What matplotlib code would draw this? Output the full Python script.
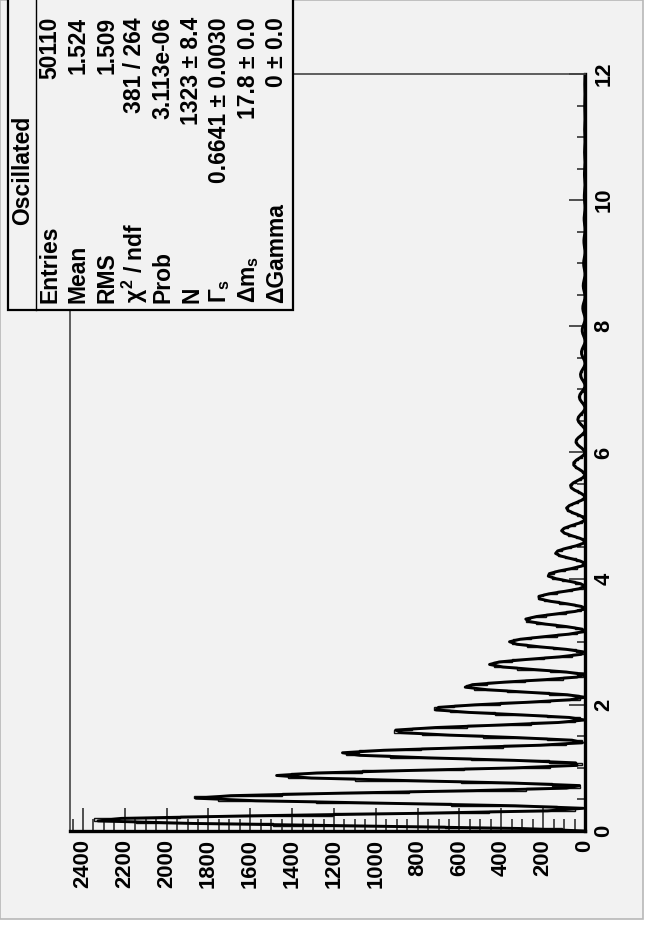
import matplotlib
matplotlib.use("Agg")
import matplotlib.pyplot as plt
import numpy as np
from matplotlib.patches import Rectangle
from matplotlib.lines import Line2D
from matplotlib.ticker import MultipleLocator

plt.rcParams['font.family'] = ['Liberation Sans', 'DejaVu Sans']
plt.rcParams['font.weight'] = 'bold'
plt.rcParams['mathtext.fontset'] = 'custom'
plt.rcParams['mathtext.rm'] = 'Liberation Sans:bold'
plt.rcParams['mathtext.it'] = 'Liberation Sans:bold'
plt.rcParams['mathtext.bf'] = 'Liberation Sans:bold'

# decay time histogram, 300 bins on [0, 12]
t_lo, t_hi, n_bins = 0.0, 12.0, 300
counts = [
    108, 670, 1491, 2145, 2345, 1935, 1205, 460, 50, 136,
    640, 1288, 1753, 1870, 1448, 842, 282, 22, 158, 595,
    1100, 1421, 1406, 1067, 579, 166, 14, 173, 544, 930,
    1143, 1082, 782, 392, 93, 16, 180, 487, 778, 912,
    825, 565, 259, 48, 23, 180, 430, 646, 722, 624,
    404, 167, 23, 30, 174, 375, 531, 567, 467, 285,
    105, 10, 37, 165, 323, 433, 442, 348, 198, 64,
    5, 43, 152, 275, 350, 342, 256, 136, 37, 4,
    46, 138, 232, 281, 262, 187, 91, 20, 5, 47,
    123, 194, 224, 200, 135, 60, 10, 7, 47, 109,
    160, 177, 150, 96, 38, 5, 9, 45, 94, 131,
    138, 112, 67, 23, 2, 10, 42, 81, 107, 108,
    83, 47, 14, 1, 12, 39, 69, 86, 83, 61,
    32, 8, 1, 12, 35, 58, 69, 64, 45, 21,
    4, 1, 12, 31, 48, 55, 48, 32, 14, 2,
    2, 12, 27, 40, 43, 36, 23, 9, 1, 2,
    12, 24, 32, 34, 27, 16, 5, 0, 3, 11,
    20, 26, 26, 20, 11, 3, 0, 3, 10, 17,
    21, 20, 15, 7, 2, 0, 3, 9, 14, 17,
    15, 11, 5, 1, 0, 3, 8, 12, 13, 12,
    8, 3, 0, 1, 3, 7, 10, 10, 9, 5,
    2, 0, 1, 3, 6, 8, 8, 7, 4, 1,
    0, 1, 3, 5, 6, 6, 5, 3, 1, 0,
    1, 3, 5, 5, 4, 3, 1, 0, 0, 1,
    3, 4, 4, 3, 2, 1, 0, 0, 1, 3,
    3, 3, 2, 1, 0, 0, 0, 1, 2, 3,
    2, 2, 1, 0, 0, 0, 1, 2, 2, 2,
    2, 1, 0, 0, 0, 1, 1, 2, 2, 1,
    1, 0, 0, 0, 1, 1, 1, 1, 1, 0,
    0, 0, 0, 1, 1, 1, 1, 1, 0, 0,
]

# fit result
fit_N = 1323.0
fit_gamma = 0.6641
fit_dm = 17.8
fit_dgamma = 0.0

stat_title = "Oscillated"
stat_labels = ["Entries", "Mean", "RMS", r"$\chi^{2}$ / ndf", "Prob", "N",
               r"$\Gamma_{s}$", r"$\Delta m_{s}$", "ΔGamma"]
stat_values = ["50110", "1.524", "1.509", "381 / 264", "3.113e-06",
               "1323 ± 8.4", "0.6641 ± 0.0030", "17.8 ± 0.0", "0 ± 0.0"]

count_ticks = list(range(0, 2401, 200))
time_ticks = [0, 2, 4, 6, 8, 10, 12]

W, H = 649, 930
fig = plt.figure(figsize=(W / 100, H / 100), dpi=100, facecolor="white")

def fx(px):
    return px / W

def fy(py):
    return 1 - py / H

# canvas
fig.add_artist(Rectangle((0, fy(919)), fx(643), 919 / H, transform=fig.transFigure,
                         facecolor="#f2f2f2", edgecolor="#b8b8b8", lw=1.2, zorder=-5))

# page is printed sideways: counts run right-to-left, time runs upward
ax = fig.add_axes([fx(70), fy(831), fx(585) - fx(70), (831 - 74) / H])
ax.set_facecolor("#f2f2f2")

edges = np.linspace(t_lo, t_hi, n_bins + 1)
ax.stairs(counts, edges, orientation="horizontal", color="#111111", lw=1.0)

# fitted function, one point per bin edge
t_fit = edges
f_fit = fit_N * np.exp(-fit_gamma * t_fit) * (np.cosh(fit_dgamma * t_fit / 2) - np.cos(fit_dm * t_fit))
ax.plot(f_fit, t_fit, color="black", lw=2.1, solid_joinstyle="round")

ax.set_xlim(2462, 0)
ax.set_ylim(t_lo, t_hi)

ax.set_xticks(count_ticks)
ax.xaxis.set_minor_locator(MultipleLocator(50))
ax.set_yticks(time_ticks)
ax.yaxis.set_minor_locator(MultipleLocator(0.5))
ax.yaxis.tick_right()

ax.tick_params(axis="x", which="both", direction="in", bottom=True, top=False,
               labelsize=15.8, labelrotation=90, pad=6, color="#222222")
ax.tick_params(axis="x", which="major", length=16.5, width=1.1)
ax.tick_params(axis="x", which="minor", length=8.5, width=1.1)
ax.tick_params(axis="y", which="both", direction="in", right=True, left=False,
               labelsize=15.8, labelrotation=90, pad=6, color="#222222")
ax.tick_params(axis="y", which="major", length=11.5, width=1.1)
ax.tick_params(axis="y", which="minor", length=5.8, width=1.1)
for lbl in ax.get_yticklabels():
    lbl.set_va("center")

for side in ("right", "bottom"):
    ax.spines[side].set_linewidth(2.4)
    ax.spines[side].set_color("black")
for side in ("left", "top"):
    ax.spines[side].set_linewidth(1.2)
    ax.spines[side].set_color("#444444")

# statistics box
box_x0, box_x1, box_y0, box_y1 = 8, 293, -10, 310
fig.add_artist(Rectangle((fx(box_x0), fy(box_y1)), fx(box_x1 - box_x0), (box_y1 - box_y0) / H,
                         transform=fig.transFigure, facecolor="#f2f2f2",
                         edgecolor="black", lw=1.6, zorder=5))
fig.add_artist(Line2D([fx(36), fx(36)], [fy(box_y1), fy(box_y0)], transform=fig.transFigure,
                      color="black", lw=1.0, zorder=6))
fig.text(fx(23), fy(170), stat_title, rotation=90, ha="center", va="center",
         fontsize=16.5, zorder=7)
row_x = [50 + 28.3 * k for k in range(len(stat_labels))]
for rx, lab, val in zip(row_x, stat_labels, stat_values):
    fig.text(fx(rx), fy(303), lab, rotation=90, ha="center", va="bottom",
             fontsize=16.5, zorder=7)
    fig.text(fx(rx), fy(17), val, rotation=90, ha="center", va="top",
             fontsize=16.5, zorder=7)

fig.savefig("out.png", dpi=100, facecolor="white")
